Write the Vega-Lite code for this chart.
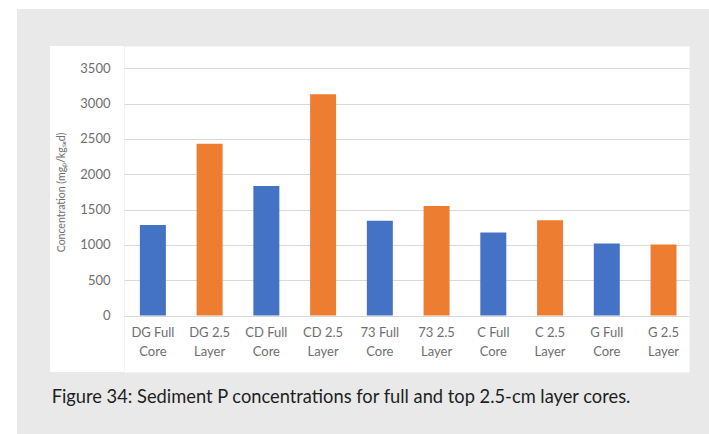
{
  "$schema": "https://vega.github.io/schema/vega-lite/v6.json",
  "background": "#e9e9e9",
  "padding": 0,
  "spacing": 0,
  "bounds": "flush",
  "config": {
    "view": {"stroke": "transparent"},
    "font": "Lato",
    "concat": {"spacing": 0}
  },
  "hconcat": [
    {"width": 17, "height": 434, "data": {"values": []}, "mark": "point", "encoding": {}, "view": {"fill": "#ffffff"}},
    {
      "spacing": 0,
      "bounds": "full",
      "vconcat": [
        {"width": 692, "height": 9, "data": {"values": []}, "mark": "point", "encoding": {}, "view": {"fill": "#ffffff"}},
        {"width": 692, "height": 36, "data": {"values": []}, "mark": "point", "encoding": {}, "view": {"fill": "#e9e9e9"}},
        {
          "spacing": 0,
          "bounds": "flush",
          "hconcat": [
            {"width": 33, "height": 326, "data": {"values": []}, "mark": "point", "encoding": {}, "view": {"fill": "#e9e9e9"}},
            {"width": 74, "height": 326, "data": {"values": []}, "mark": "point", "encoding": {}, "view": {"fill": "#ffffff"}},
            {
              "width": 565,
              "height": 326,
              "view": {"fill": "#ffffff"},
              "data": {"values": [
                {"sample": "DG Full Core", "type": "Full Core", "value": 1283},
                {"sample": "DG 2.5 Layer", "type": "2.5 Layer", "value": 2432},
                {"sample": "CD Full Core", "type": "Full Core", "value": 1835},
                {"sample": "CD 2.5 Layer", "type": "2.5 Layer", "value": 3132},
                {"sample": "73 Full Core", "type": "Full Core", "value": 1344},
                {"sample": "73 2.5 Layer", "type": "2.5 Layer", "value": 1552},
                {"sample": "C Full Core", "type": "Full Core", "value": 1176},
                {"sample": "C 2.5 Layer", "type": "2.5 Layer", "value": 1350},
                {"sample": "G Full Core", "type": "Full Core", "value": 1021},
                {"sample": "G 2.5 Layer", "type": "2.5 Layer", "value": 1008}
              ]},
              "mark": {"type": "bar"},
              "encoding": {
                "x": {
                  "field": "sample", "type": "nominal", "sort": null,
                  "scale": {"paddingInner": 0.542, "paddingOuter": 0.25, "align": 0.56},
                  "axis": {
                    "title": null, "labelAngle": 0, "domain": false, "ticks": false, "grid": false,
                    "offset": -56.4, "labelPadding": 11, "labelFontSize": 13, "labelColor": "#6e6e6e",
                    "labelLineHeight": 19,
                    "labelExpr": "[join(slice(split(datum.label, ' '), 0, -1), ' '), peek(split(datum.label, ' '))]"
                  }
                },
                "y": {
                  "field": "value", "type": "quantitative",
                  "scale": {"domain": [0, 3500], "range": [269.6, 22.3], "nice": false},
                  "axis": {
                    "values": [0, 500, 1000, 1500, 2000, 2500, 3000, 3500], "format": "d",
                    "domain": false, "ticks": false, "grid": true, "gridColor": "#d9d9d9",
                    "labelPadding": 14, "labelFontSize": 13, "labelColor": "#6e6e6e",
                    "title": "Concentration (mgₚ/kgₛₑd)", "titleFontSize": 10.5, "titleFontWeight": "normal",
                    "titleColor": "#6e6e6e", "titlePadding": 13
                  }
                },
                "color": {
                  "field": "type", "type": "nominal",
                  "scale": {"domain": ["Full Core", "2.5 Layer"], "range": ["#4472c4", "#ed7d31"]},
                  "legend": null
                }
              }
            }
          ]
        },
        {
          "width": 648, "height": 50,
          "view": {"fill": "#e9e9e9"},
          "data": {"values": [{"caption": "Figure 34: Sediment P concentrations for full and top 2.5-cm layer cores."}]},
          "mark": {"type": "text", "fontSize": 18.3, "color": "#1e1e1e", "font": "Lato"},
          "encoding": {"text": {"field": "caption"}}
        },
        {"width": 692, "height": 13, "data": {"values": []}, "mark": "point", "encoding": {}, "view": {"fill": "#e9e9e9"}}
      ]
    }
  ]
}
